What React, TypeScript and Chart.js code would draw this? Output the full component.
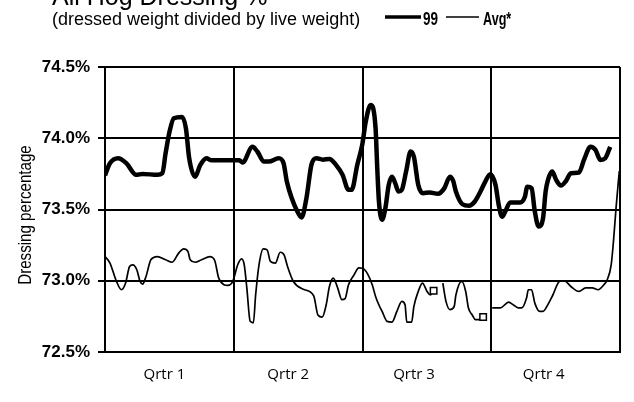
import React, { useEffect, useRef } from "react";
import { Chart, registerables } from "chart.js";

Chart.register(...registerables);

const TITLE = "All Hog Dressing %";
const SUBTITLE = "(dressed weight divided by live weight)";
const SERIES_NAMES = ["99", "Avg*"];
const Y_TITLE = "Dressing percentage";

// x in weeks (0..52), y in dressing %
const weeks99 = [
  0, 0.5, 1.32, 2.15, 3.15, 3.8, 5.29, 5.79, 6.12, 6.52, 6.95, 7.77, 8.17, 8.5, 9.1, 9.6, 10.25, 10.75, 11.9,
  13.57, 13.89, 14.89, 15.38, 16.05, 16.54, 17.53, 18.03, 18.36, 18.85, 19.42, 19.85, 20.34, 20.84, 21.34,
  22.0, 22.66, 23.32, 23.99, 24.58, 24.91, 25.47, 25.97, 26.33, 26.82, 27.32, 27.49, 27.66, 27.98, 28.31,
  28.65, 28.98, 29.3, 29.64, 29.97, 30.4, 30.86, 31.19, 31.63, 32.12, 32.78, 33.61, 34.27, 34.83, 35.16,
  35.43, 36.09, 36.75, 37.34, 37.91, 38.4, 38.9, 39.43, 39.76, 40.09, 40.42, 40.91, 41.91, 42.4, 42.64,
  43.07, 43.4, 43.79, 44.23, 44.49, 44.73, 45.15, 45.55, 46.05, 46.54, 47.04, 47.86, 48.36, 49.02, 49.52,
  50.02, 50.51, 51.01,
];
const vals99 = [
  73.74, 73.825, 73.86, 73.825, 73.743, 73.75, 73.743, 73.755, 73.895, 74.047, 74.14, 74.15, 74.07, 73.86,
  73.73, 73.81, 73.86, 73.845, 73.845,
  73.845, 73.83, 73.94, 73.907, 73.836, 73.836, 73.86, 73.825, 73.696, 73.58, 73.486, 73.444, 73.58, 73.813,
  73.86, 73.85, 73.855, 73.813, 73.743, 73.638, 73.638, 73.813, 73.953, 74.117, 74.234, 74.07, 73.79,
  73.556, 73.428, 73.51, 73.673, 73.73, 73.685, 73.626, 73.638, 73.766, 73.907, 73.87, 73.673, 73.614,
  73.62, 73.61, 73.65, 73.73, 73.7, 73.626, 73.537, 73.526, 73.556, 73.626, 73.696, 73.748, 73.673, 73.53,
  73.45, 73.486, 73.55, 73.55, 73.59, 73.66, 73.65, 73.486, 73.38, 73.44, 73.626, 73.708, 73.766, 73.708,
  73.668, 73.7, 73.755, 73.76, 73.848, 73.94, 73.918, 73.848, 73.86, 73.94,
];

const weeksAvg = [
  0, 0.5, 1.16, 1.66, 2.08, 2.48, 2.81, 3.21, 3.54, 3.8, 4.14, 4.63, 5.29, 6.12, 6.78, 7.44, 7.94, 8.37,
  8.6, 9.1, 9.75, 10.59, 11.08, 11.48, 12.01, 12.4, 12.9, 13.4, 13.79, 14.06, 14.32, 14.66, 14.98, 15.21,
  15.55, 15.98, 16.37, 16.7, 17.2, 17.69, 18.09, 18.43, 19.02, 20.02, 21.07, 21.5, 21.93, 22.33, 22.66,
  23.05, 23.49, 23.92, 24.24, 24.58, 25.14, 25.63, 26.0, 26.5, 26.99, 27.32, 27.66, 27.98, 28.48, 28.98,
  29.47, 29.97, 30.3, 30.47, 30.96, 31.19, 31.63, 32.05, 32.52, 32.85, 33.18, 33.6, 34.11, 34.43, 34.83,
  35.26, 35.43, 36.02, 36.42, 36.69, 37.08, 37.41, 37.91, 38.18, 38.6, 39.1, 39.92, 40.76, 41.25, 41.75,
  42.08, 42.57, 42.74, 43.07, 43.4, 43.89, 44.23, 44.73, 45.22, 45.88, 46.37, 47.04, 47.86, 48.53, 49.19,
  49.79, 50.35, 50.7, 51.11, 51.34, 51.6, 51.93,
];
const valsAvg: (number | null)[] = [
  73.17, 73.124, 72.995, 72.937, 72.984, 73.1, 73.112, 73.077, 72.995, 72.977, 73.03, 73.147, 73.17, 73.147,
  73.13, 73.194, 73.224, 73.206, 73.147, 73.13, 73.147, 73.17, 73.142, 73.019, 72.972, 72.967, 72.995,
  73.112, 73.154, 73.112, 72.95, 72.715, 72.705, 72.9, 73.112, 73.224, 73.217, 73.136, 73.124, 73.2, 73.18,
  73.1, 72.995, 72.94, 72.895, 72.76, 72.745, 72.83, 72.96, 73.019, 72.95, 72.867, 72.874, 72.97, 73.04,
  73.09, 73.088, 73.05, 72.97, 72.89, 72.83, 72.785, 72.715, 72.71, 72.785, 72.855, 72.83, 72.71, 72.71,
  72.82, 72.925, 72.984, 72.925, 72.9, 72.93, null, 72.984, 72.855, 72.797, 72.82, 72.9, 72.995, 72.925,
  72.81, 72.76, 72.727, 72.727, 72.745, null, 72.81, 72.81, 72.85, 72.83, 72.81, 72.81, 72.88, 72.937,
  72.937, 72.843, 72.785, 72.785, 72.834, 72.9, 72.995, 73.0, 72.96, 72.925, 72.95, 72.95, 72.937, 72.97,
  73.005, 73.112, 73.276, 73.51, 73.77,
];
// Avg points drawn with a square marker (end of a run before a gap)
const avgMarkedWeeks = [33.18, 38.18];

const yMin = 72.5;
const yMax = 74.5;
const yStep = 0.5;
const quarterBounds = [0, 13, 26, 39, 52];
const quarterLabels = ["Qrtr 1", "Qrtr 2", "Qrtr 3", "Qrtr 4"];
const quarterLabelPos = [6.0, 18.5, 31.2, 44.3];

const SANS = '"Liberation Sans", Arial, sans-serif';

function drawScaledText(
  ctx: CanvasRenderingContext2D,
  text: string,
  x: number,
  y: number,
  sx: number,
  align: CanvasTextAlign = "left"
) {
  ctx.save();
  ctx.translate(x, y);
  ctx.scale(sx, 1);
  ctx.textAlign = align;
  ctx.fillText(text, 0, 0);
  ctx.restore();
}

const headerPlugin = {
  id: "header",
  afterDraw(chart: any) {
    const ctx = chart.ctx as CanvasRenderingContext2D;
    ctx.save();
    ctx.fillStyle = "#000";
    ctx.strokeStyle = "#000";
    ctx.textBaseline = "alphabetic";
    ctx.textAlign = "left";
    ctx.font = `25px ${SANS}`;
    ctx.fillText(TITLE, 52, 5);
    ctx.font = `18px ${SANS}`;
    ctx.fillText(SUBTITLE, 52, 25);
    // legend
    ctx.lineCap = "butt";
    ctx.lineWidth = 3.5;
    ctx.beginPath();
    ctx.moveTo(385, 17);
    ctx.lineTo(421, 17);
    ctx.stroke();
    ctx.font = `bold 18px ${SANS}`;
    drawScaledText(ctx, SERIES_NAMES[0], 423, 25, 0.75);
    ctx.lineWidth = 1.5;
    ctx.beginPath();
    ctx.moveTo(446, 17);
    ctx.lineTo(479, 17);
    ctx.stroke();
    drawScaledText(ctx, SERIES_NAMES[1], 483, 25, 0.7);
    // y-axis title (condensed, rotated)
    ctx.save();
    ctx.translate(31, 215);
    ctx.rotate(-Math.PI / 2);
    ctx.scale(0.84, 1);
    ctx.font = `18px ${SANS}`;
    ctx.textAlign = "center";
    ctx.fillText(Y_TITLE, 0, 0);
    ctx.restore();
    ctx.restore();
  },
};

export default function App() {
  const ref = useRef<HTMLCanvasElement | null>(null);
  useEffect(() => {
    if (!ref.current) return;
    const d99 = weeks99.map((x, i) => ({ x, y: vals99[i] }));
    const dAvg = weeksAvg.map((x, i) => ({ x, y: valsAvg[i] }));
    const tickVals = [...quarterBounds, ...quarterLabelPos].sort((a, b) => a - b);
    const chart = new Chart(ref.current, {
      type: "line",
      data: {
        datasets: [
          {
            label: SERIES_NAMES[0],
            data: d99 as any,
            borderColor: "#000",
            borderWidth: 4.5,
            pointRadius: 0,
            cubicInterpolationMode: "monotone",
            fill: false,
          },
          {
            label: SERIES_NAMES[1],
            data: dAvg as any,
            borderColor: "#000",
            borderWidth: 1.7,
            spanGaps: false,
            cubicInterpolationMode: "monotone",
            fill: false,
            pointStyle: "rect",
            pointRadius: (c: any) => (c.raw && avgMarkedWeeks.includes(c.raw.x) ? 4.6 : 0),
            pointBackgroundColor: "#fff",
            pointBorderColor: "#000",
            pointBorderWidth: 1.5,
          },
        ],
      },
      options: {
        animation: false,
        responsive: false,
        devicePixelRatio: 1,
        events: [],
        layout: { padding: { top: 67, right: 5, left: 0, bottom: 0 } },
        plugins: {
          legend: { display: false },
          title: { display: false },
          tooltip: { enabled: false },
        },
        scales: {
          x: {
            type: "linear",
            min: quarterBounds[0],
            max: quarterBounds[quarterBounds.length - 1],
            afterBuildTicks: (scale: any) => {
              scale.ticks = tickVals.map((v) => ({ value: v }));
            },
            afterFit: (scale: any) => {
              scale.height = 50;
            },
            grid: {
              drawTicks: false,
              color: (c: any) => (c.tick && quarterBounds.includes(c.tick.value) ? "#000" : "rgba(0,0,0,0)"),
              lineWidth: 2,
            },
            border: { display: true, color: "#000", width: 2 },
            ticks: {
              autoSkip: false,
              maxRotation: 0,
              padding: 14,
              color: "#000",
              font: { family: '"Open Sans", "Liberation Sans", sans-serif', size: 15 },
              callback: (v: any) => {
                const i = quarterLabelPos.indexOf(Number(v));
                return i >= 0 ? quarterLabels[i] : "";
              },
            },
          },
          y: {
            type: "linear",
            min: yMin,
            max: yMax,
            afterFit: (scale: any) => {
              scale.width = 105;
            },
            grid: { color: "#000", lineWidth: 2, tickLength: 7, drawTicks: true },
            border: { display: true, color: "#000", width: 2 },
            ticks: {
              stepSize: yStep,
              padding: 8,
              color: "#000",
              font: { family: SANS, size: 17, weight: "bold" },
              callback: (v: any) => Number(v).toFixed(1) + "%",
            },
            title: { display: false },
          },
        },
      },
      plugins: [headerPlugin],
    });
    return () => chart.destroy();
  }, []);
  return (
    <div style={{ position: "fixed", left: 0, top: 0, width: 634, height: 402, background: "#fff" }}>
      <canvas ref={ref} width={634} height={402} style={{ width: 634, height: 402, display: "block" }} />
    </div>
  );
}
